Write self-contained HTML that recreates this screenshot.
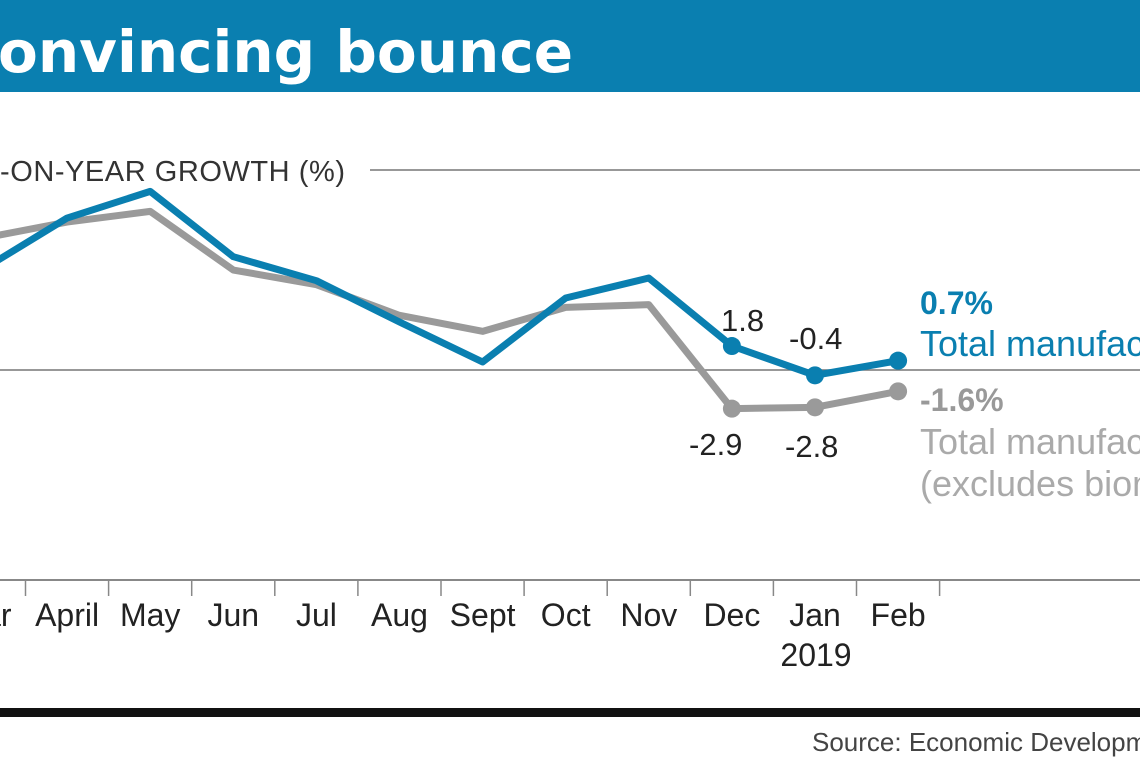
<!DOCTYPE html>
<html><head><meta charset="utf-8"><style>
body{margin:0;width:1140px;height:760px;overflow:hidden;background:#fff;font-family:"Liberation Sans","DejaVu Sans",sans-serif;}
</style></head><body>
<svg width="1140" height="760">
<rect x="0" y="0" width="1140" height="92" fill="#0a7fb0"/>
<text x="-2" y="72" font-size="58" font-weight="bold" fill="#fff" font-family="DejaVu Sans, sans-serif">onvincing bounce</text>
<line x1="370" y1="170" x2="1140" y2="170" stroke="#777" stroke-width="1.5"/>
<text x="0" y="181" font-size="29" fill="#333" textLength="345">-ON-YEAR GROWTH (%)</text>
<line x1="0" y1="370" x2="1140" y2="370" stroke="#777" stroke-width="1.5"/>
<line x1="0" y1="580" x2="1140" y2="580" stroke="#888" stroke-width="2"/>
<g id="ticks"></g><g id="lines"></g>
<text x="920" y="314" font-size="32" font-weight="bold" fill="#0a7fb0">0.7%</text>
<text x="920" y="356" font-size="36" fill="#0a7fb0">Total manufacturing</text>
<text x="920" y="411" font-size="32" font-weight="bold" fill="#999">-1.6%</text>
<text x="920" y="454" font-size="36" fill="#aaa">Total manufacturing</text>
<text x="920" y="496" font-size="36" fill="#aaa">(excludes biomedical)</text>
<text x="721" y="331" font-size="31" fill="#222">1.8</text>
<text x="789" y="349" font-size="31" fill="#222">-0.4</text>
<text x="689" y="455" font-size="31" fill="#222">-2.9</text>
<text x="785" y="457" font-size="31" fill="#222">-2.8</text>
<text x="816" y="666" font-size="32" fill="#222" text-anchor="middle">2019</text>
<rect x="0" y="708" width="1140" height="9" fill="#111"/>
<text x="812" y="751" font-size="26" fill="#444">Source: Economic Development Board</text>
</svg>
<script>
const months=["Mar","April","May","Jun","Jul","Aug","Sept","Oct","Nov","Dec","Jan","Feb"];
const totalMfg=[7.6,11.4,13.4,8.5,6.7,3.6,0.6,5.4,6.9,1.8,-0.4,0.7];
const exBiomed=[9.9,11.1,11.9,7.5,6.4,4.1,2.9,4.7,4.9,-2.9,-2.8,-1.6];
const NS="http://www.w3.org/2000/svg";
function xs(i){return -16+83.1*i;}
function ys(v){return 370-v*13.33;}
const tk=document.getElementById('ticks'),ln=document.getElementById('lines');
months.forEach((m,i)=>{
 const t=document.createElementNS(NS,'line');
 t.setAttribute('x1',xs(i)+41.5);t.setAttribute('x2',xs(i)+41.5);t.setAttribute('y1',580);t.setAttribute('y2',596);
 t.setAttribute('stroke','#888');t.setAttribute('stroke-width','1.5');
 
 
 tk.appendChild(t);
 const l=document.createElementNS(NS,'text');
 l.setAttribute('x',xs(i));l.setAttribute('y',626);l.setAttribute('font-size','32');l.setAttribute('fill','#222');l.setAttribute('text-anchor','middle');
 l.textContent=m;
 
 
 tk.appendChild(l);
});
function series(vals,col,name){
 const p=document.createElementNS(NS,'polyline');
 p.setAttribute('points',vals.map((v,i)=>xs(i)+','+ys(v)).join(' '));
 p.setAttribute('fill','none');p.setAttribute('stroke',col);p.setAttribute('stroke-width','7');p.setAttribute('stroke-linejoin','round');
 
 
 ln.appendChild(p);
 [9,10,11].forEach(i=>{
  const c=document.createElementNS(NS,'circle');
  c.setAttribute('cx',xs(i));c.setAttribute('cy',ys(vals[i]));c.setAttribute('r',9);c.setAttribute('fill',col);
  
  
  ln.appendChild(c);
 });
}
series(exBiomed,'#9a9a9a','ex-biomed');
series(totalMfg,'#0a7fb0','total-mfg');
</script>
</body></html>
